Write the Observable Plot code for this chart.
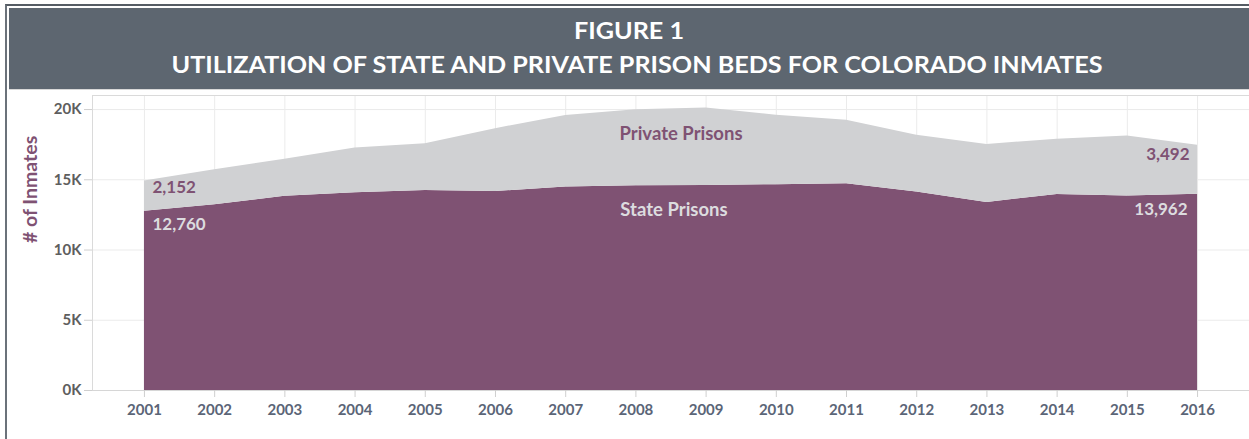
<!DOCTYPE html>
<html>
<head>
<meta charset="utf-8">
<script src="https://cdn.jsdelivr.net/npm/d3@7"></script>
<script src="https://cdn.jsdelivr.net/npm/@observablehq/plot@0.6"></script>
<style>
  html, body { margin: 0; padding: 0; background: #fff; }
  #wrap { position: relative; width: 1249px; height: 439px; overflow: hidden; background: #fff; font-family: Lato, "Open Sans", sans-serif; }
  #border { position: absolute; left: 5px; top: 4px; width: 1250px; height: 440px; border-left: 2px solid #6b727a; border-top: 2px solid #555c64; }
  #banner { position: absolute; left: 9px; top: 8px; }
  #chart { position: absolute; left: 0; top: 89px; }
</style>
</head>
<body>
<div id="wrap">
  <div id="border"></div>
  <svg id="banner" width="1240" height="82">
    <rect x="0" y="0" width="1240" height="81" fill="#5d6670"></rect>
    <rect x="0" y="81" width="1240" height="2" fill="#d8d8d8"></rect>
    <text x="620" y="31" text-anchor="middle" fill="#fff" font-family="Lato, sans-serif" font-weight="bold" font-size="23" textLength="110" lengthAdjust="spacingAndGlyphs">FIGURE 1</text>
    <text x="628" y="65" text-anchor="middle" fill="#fff" font-family="Lato, sans-serif" font-weight="bold" font-size="23" textLength="931" lengthAdjust="spacingAndGlyphs">UTILIZATION OF STATE AND PRIVATE PRISON BEDS FOR COLORADO INMATES</text>
  </svg>
  <div id="chart"></div>
</div>
<script>
const years = [2001, 2002, 2003, 2004, 2005, 2006, 2007, 2008, 2009, 2010, 2011, 2012, 2013, 2014, 2015, 2016];
const statePrisons   = [12760, 13225, 13820, 14080, 14245, 14170, 14480, 14580, 14600, 14650, 14720, 14125, 13390, 13960, 13840, 13962];
const privatePrisons = [2152, 2490, 2635, 3180, 3320, 4470, 5105, 5410, 5510, 4940, 4510, 4040, 4130, 3920, 4275, 3492];
const seriesNames = ["State Prisons", "Private Prisons"];
const seriesColors = ["#7f5273", "#d0d1d3"];
const yTicks = [0, 5000, 10000, 15000, 20000];
const xDomain = [2000.26, 2016.74];
const yDomain = [0, 21000];

const data = years.flatMap((yr, i) => [
  {year: yr, type: seriesNames[0], value: statePrisons[i]},
  {year: yr, type: seriesNames[1], value: privatePrisons[i]}
]);

const fmt = d3.format(",");
const last = years.length - 1;
const midYear = (years[0] + years[last]) / 2;
const iMid = years.indexOf(Math.floor(midYear));
const stateMid = (statePrisons[iMid] + statePrisons[iMid + 1]) / 2;
const totalMid = (statePrisons[iMid] + privatePrisons[iMid] + statePrisons[iMid + 1] + privatePrisons[iMid + 1]) / 2;

const purple = seriesColors[0];
const light = "#dcdcdf";
const num = {fontWeight: "bold", fontSize: 17, fontFamily: "Lato, sans-serif"};
const name = {fontWeight: "bold", fontSize: 18.5, fontFamily: "Lato, sans-serif"};

const chart = Plot.plot({
  width: 1249,
  height: 350,
  marginLeft: 92,
  marginRight: 0,
  marginTop: 6,
  marginBottom: 49,
  style: {fontFamily: "Lato, sans-serif", background: "transparent", overflow: "visible"},
  x: {domain: xDomain, label: null},
  y: {domain: yDomain, label: null},
  color: {domain: seriesNames, range: seriesColors},
  marks: [
    Plot.gridY(yTicks, {stroke: "#ebebeb", strokeOpacity: 1}),
    Plot.gridX(years, {stroke: "#ebebeb", strokeOpacity: 1}),
    Plot.areaY(data, {x: "year", y: "value", fill: "type", order: seriesNames, curve: "linear"}),
    Plot.ruleY([yDomain[1]], {stroke: "#dadada"}),
    Plot.ruleY([yDomain[0]], {stroke: "#d6d6d6"}),
    Plot.ruleX([xDomain[0]], {stroke: "#dadada"}),
    Plot.axisX(years, {tickSize: 7, tickPadding: 7, stroke: "#cfcfcf", fill: "#5b6577", fontWeight: "bold", fontSize: 15, tickFormat: d => String(d), label: null}),
    Plot.axisY(yTicks, {tickSize: 8, tickPadding: 3, stroke: "#cfcfcf", fill: "#5e5e5e", fontWeight: "bold", fontSize: 15, tickFormat: d => (d / 1000) + "K", label: null}),
    Plot.text(["# of Inmates"], {frameAnchor: "left", text: d => d, rotate: -90, dx: -62, fill: purple, fontWeight: "bold", fontSize: 19.5}),
    Plot.text([{x: years[0], y: statePrisons[0] + privatePrisons[0], t: fmt(privatePrisons[0])}], {x: "x", y: "y", text: "t", textAnchor: "start", dx: 8, dy: 7, fill: purple, ...num}),
    Plot.text([{x: years[0], y: statePrisons[0], t: fmt(statePrisons[0])}], {x: "x", y: "y", text: "t", textAnchor: "start", dx: 8, dy: 13, fill: light, ...num}),
    Plot.text([{x: years[last], y: statePrisons[last] + privatePrisons[last], t: fmt(privatePrisons[last])}], {x: "x", y: "y", text: "t", textAnchor: "end", dx: -8, dy: 9, fill: purple, ...num}),
    Plot.text([{x: years[last], y: statePrisons[last], t: fmt(statePrisons[last])}], {x: "x", y: "y", text: "t", textAnchor: "end", dx: -10, dy: 15, fill: light, ...num}),
    Plot.text([{x: midYear, y: totalMid, t: seriesNames[1]}], {x: "x", y: "y", text: "t", dx: 10, dy: 25, fill: purple, ...name}),
    Plot.text([{x: midYear, y: stateMid, t: seriesNames[0]}], {x: "x", y: "y", text: "t", dx: 3, dy: 25, fill: light, ...name})
  ]
});
document.getElementById("chart").appendChild(chart);
</script>
</body>
</html>
